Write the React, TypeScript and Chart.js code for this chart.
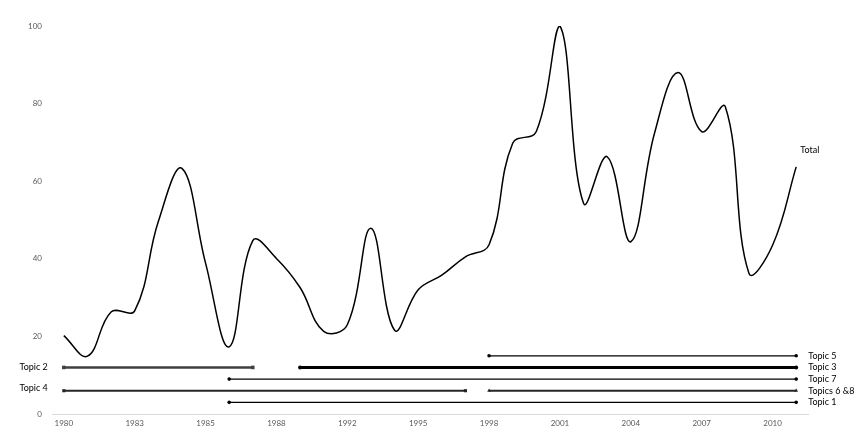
import { useEffect, useRef } from 'react';
import { Chart, registerables } from 'chart.js';

Chart.register(...registerables);

const years = [
  '1980', '1981', '1982', '1983', '1984', '1985', '1986', '1987', '1988', '1989', '1990',
  '1991', '1992', '1993', '1994', '1995', '1996', '1997', '1998', '1999', '2000', '2001',
  '2002', '2003', '2004', '2005', '2006', '2007', '2008', '2009', '2010', '2011',
];

// tick labels as printed under every third year
const xTickLabels = ['1980', '1983', '1985', '1988', '1992', '1995', '1998', '2001', '2004', '2007', '2010'];

const totalValues = [
  20.2, 14.9, 26.3, 26.6, 49.6, 63.3, 38.9, 17.3, 44.7, 40.1, 32.6,
  21.3, 23, 47.9, 21.6, 32, 35.8, 40.5, 43.6, 69.8, 72.8, 100,
  54.3, 66.3, 44.4, 72.3, 88, 72.8, 79.2, 36.3, 43.5, 63.7,
];

const topicNames = ['Topic 5', 'Topic 3', 'Topic 2', 'Topic 7', 'Topic 4', 'Topics 6 &8', 'Topic 1'];
const topicLevels = [15, 12, 12, 9, 6, 6, 3];
const topicStarts = ['1998', '1990', '1980', '1987', '1980', '1998', '1987'];
const topicEnds = ['2011', '2011', '1988', '2011', '1997', '2011', '2011'];

// look of each topic line
const topicColors = ['#000000', '#000000', '#404040', '#000000', '#262626', '#262626', '#000000'];
const topicWidths = [1.3, 3, 2.5, 1.3, 2, 2, 1.3];
const topicPointStyles = ['circle', 'circle', 'rect', 'circle', 'rect', 'triangle', 'circle'];
const topicPointRadius = [1.8, 2, 2.5, 1.8, 2.2, 2.2, 1.8];
const topicLabelSides = ['right', 'right', 'left', 'right', 'left', 'right', 'right'];

const labelFont = '9px Lato';

const lineLabels = {
  id: 'lineLabels',
  afterDatasetsDraw(chart: any) {
    const ctx = chart.ctx;
    chart.data.datasets.forEach((ds: any, i: number) => {
      const pts = chart.getDatasetMeta(i).data;
      if (!pts.length) return;
      ctx.save();
      ctx.font = labelFont;
      ctx.fillStyle = '#000000';
      ctx.textBaseline = 'middle';
      if (ds.labelSide === 'left') {
        const p = pts[0];
        ctx.textAlign = 'right';
        ctx.fillText(ds.label, p.x - 16, p.y + (ds.labelDy || 0));
      } else if (ds.labelSide === 'above') {
        const p = pts[pts.length - 1];
        ctx.textAlign = 'left';
        ctx.fillText(ds.label, p.x + 4, p.y - 17);
      } else {
        const p = pts[pts.length - 1];
        ctx.textAlign = 'left';
        ctx.fillText(ds.label, p.x + 12, p.y);
      }
      ctx.restore();
    });
  },
};

export default function App() {
  const chartRef = useRef<HTMLCanvasElement>(null);
  const chartInstance = useRef<Chart | null>(null);

  useEffect(() => {
    if (!chartRef.current) return;
    if (chartInstance.current) chartInstance.current.destroy();

    const topicSets = topicNames.map((name, i) => ({
      label: name,
      data: [
        { x: topicStarts[i], y: topicLevels[i] },
        { x: topicEnds[i], y: topicLevels[i] },
      ],
      borderColor: topicColors[i],
      backgroundColor: topicColors[i],
      borderWidth: topicWidths[i],
      pointStyle: topicPointStyles[i],
      pointRadius: topicPointRadius[i],
      pointBorderWidth: 0,
      tension: 0,
      labelSide: topicLabelSides[i],
      labelDy: name === 'Topic 4' ? -3 : 0,
    }));

    const ctx = chartRef.current.getContext('2d');
    if (ctx) {
      chartInstance.current = new Chart(ctx, {
        type: 'line',
        data: {
          labels: years,
          datasets: [
            {
              label: 'Total',
              data: totalValues,
              borderColor: '#000000',
              borderWidth: 1.5,
              pointRadius: 0,
              tension: 0.4,
              labelSide: 'above',
            } as any,
            ...(topicSets as any[]),
          ],
        },
        options: {
          responsive: true,
          maintainAspectRatio: false,
          animation: false,
          layout: { padding: { top: 26, right: 54, left: 0, bottom: 0 } },
          plugins: {
            legend: { display: false },
            tooltip: { enabled: false },
          },
          scales: {
            x: {
              type: 'category',
              offset: true,
              grid: { display: false, drawTicks: false },
              border: { display: true, color: '#d9d9d9', width: 1 },
              ticks: {
                autoSkip: false,
                maxRotation: 0,
                padding: 5,
                color: '#595959',
                font: { family: 'Lato', size: 8 },
                callback: (_v: any, index: number) => (index % 3 === 0 ? xTickLabels[index / 3] : null),
              },
              afterFit: (scale: any) => {
                scale.height = 19;
              },
            },
            y: {
              min: 0,
              max: 100,
              grid: { display: false, drawTicks: false },
              border: { display: false },
              ticks: {
                stepSize: 20,
                padding: 10,
                color: '#595959',
                font: { family: 'Lato', size: 8 },
              },
              afterFit: (scale: any) => {
                scale.width = 52;
              },
            },
          },
        },
        plugins: [lineLabels],
      });
    }

    return () => {
      if (chartInstance.current) {
        chartInstance.current.destroy();
        chartInstance.current = null;
      }
    };
  }, []);

  return (
    <div style={{ position: 'absolute', left: 0, top: 0, width: 862, height: 433, background: '#ffffff' }}>
      <canvas ref={chartRef} />
    </div>
  );
}
